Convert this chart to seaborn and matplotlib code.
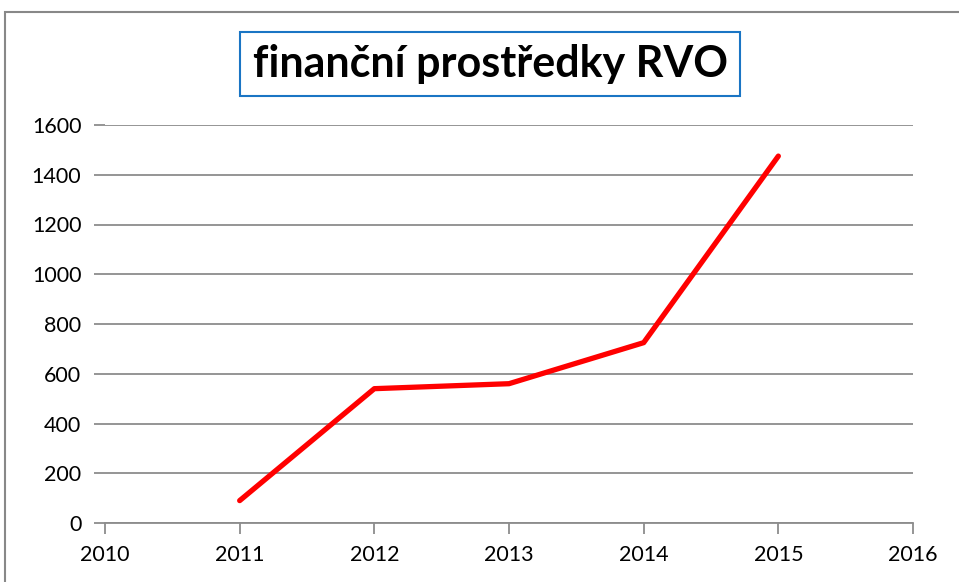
import matplotlib
matplotlib.use("Agg")
import matplotlib.pyplot as plt
import seaborn as sns
import pandas as pd
from matplotlib.patches import Rectangle

years = [2011, 2012, 2013, 2014, 2015]
values = [90, 540, 560, 725, 1475]
x_ticks = [2010, 2011, 2012, 2013, 2014, 2015, 2016]
y_ticks = [0, 200, 400, 600, 800, 1000, 1200, 1400, 1600]
title = "finanční prostředky RVO"

df = pd.DataFrame({"rok": years, "hodnota": values})

sns.set_style("white")
plt.rcParams['font.family'] = ['Lato', 'DejaVu Sans']

fig = plt.figure(figsize=(9.59, 5.82), dpi=100)
ax = fig.add_axes([105 / 959, 1 - 523 / 582, 808 / 959, 398 / 582])

sns.lineplot(data=df, x="rok", y="hodnota", ax=ax, color="#FF0000",
             linewidth=3.8, solid_capstyle="round")

ax.set_xlim(2010, 2016)
ax.set_ylim(0, 1600)
ax.set_xticks(x_ticks)
ax.set_yticks(y_ticks)
ax.set_xlabel("")
ax.set_ylabel("")
ax.grid(axis="y", color="#8c8c8c", linewidth=1.3)
ax.set_axisbelow(True)
for side in ["left", "right", "top"]:
    ax.spines[side].set_visible(False)
ax.spines["bottom"].set_color("#8c8c8c")
ax.spines["bottom"].set_linewidth(1.3)
ax.tick_params(axis="both", which="both", length=8, width=1.3,
               color="#8c8c8c", labelsize=15.5, labelcolor="black")
ax.tick_params(axis="x", pad=8)
ax.tick_params(axis="y", pad=9)
ax.yaxis.set_ticks_position("left")
ax.xaxis.set_ticks_position("bottom")

# outer chart frame
fig.patches.append(Rectangle((5 / 959, -0.05), 1.0, 1 - 12 / 582 + 0.05,
                             transform=fig.transFigure, fill=False,
                             edgecolor="#888888", linewidth=1.5))

fig.text(490 / 959, 1 - 64 / 582, title, ha="center", va="center",
         fontsize=31, fontweight="bold", color="black",
         bbox=dict(boxstyle="square,pad=0.28", facecolor="white",
                   edgecolor="#1a75c4", linewidth=1.5))

fig.savefig("out.png", dpi=100)
